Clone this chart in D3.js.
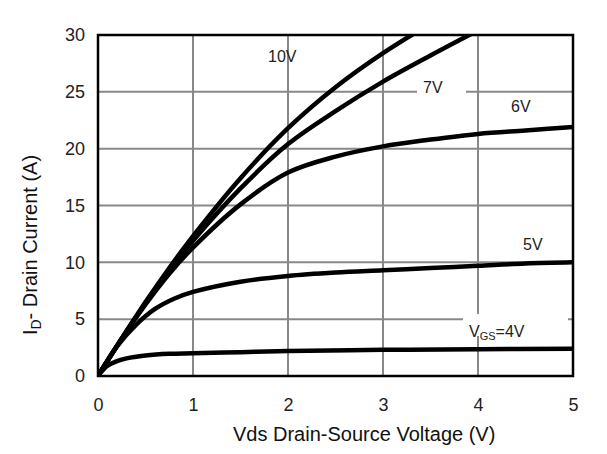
<!DOCTYPE html>
<html><head><meta charset="utf-8">
<script src="https://cdn.jsdelivr.net/npm/d3@7"></script>
<style>body{margin:0;background:#fff}svg{display:block}text{font-family:"Liberation Sans",Arial,sans-serif}</style>
</head><body><svg id="c" width="607" height="454"></svg>
<script>
const xTicks = [0,1,2,3,4,5];
const yTicks = [0,5,10,15,20,25,30];
const vds10 = [0,0.25,0.5,0.75,1,1.5,2,2.5,3,3.5];
const id10  = [0,3.3,6.5,9.5,12.3,17.4,21.8,25.4,28.4,31.0];
const vds7  = [0,0.25,0.5,0.75,1,1.5,2,2.5,3,3.5,4];
const id7   = [0,3.3,6.4,9.3,11.9,16.5,20.4,23.3,25.9,28.2,30.4];
const vds6  = [0,0.25,0.5,0.75,1,1.5,2,2.5,3,3.5,4,4.5,5];
const id6   = [0,3.3,6.3,9.0,11.3,15.1,17.9,19.3,20.2,20.8,21.3,21.6,21.9];
const vds5  = [0,0.2,0.4,0.6,0.8,1,1.5,2,2.5,3,3.5,4,4.5,5];
const id5   = [0,2.6,4.5,5.9,6.8,7.4,8.3,8.8,9.1,9.3,9.5,9.7,9.9,10.0];
const vds4  = [0,0.1,0.2,0.3,0.5,0.75,1,1.5,2,3,4,5];
const id4   = [0,0.9,1.3,1.55,1.8,1.95,2.0,2.1,2.2,2.3,2.35,2.4];
const seriesLabels = ["10V","7V","6V","5V"];

const svg = d3.select("#c");
const x = d3.scaleLinear().domain([0,5]).range([98,573]);
const y = d3.scaleLinear().domain([0,30]).range([376,35]);

// grid
const g = svg.append("g");
g.selectAll("line.v").data(xTicks.slice(1,-1)).join("line")
  .attr("x1",d=>x(d)).attr("x2",d=>x(d)).attr("y1",y(0)).attr("y2",y(30))
  .attr("stroke","#888").attr("stroke-width",2);
g.selectAll("line.h").data(yTicks.slice(1,-1)).join("line")
  .attr("y1",d=>y(d)).attr("y2",d=>y(d)).attr("x1",x(0)).attr("x2",x(5))
  .attr("stroke","#888").attr("stroke-width",2);

// white boxes for labels
const boxes = [[417,80,49,16],[507,98,59,16],[463,314,105,22]];
svg.selectAll("rect.box").data(boxes).join("rect")
  .attr("x",d=>d[0]).attr("y",d=>d[1]).attr("width",d=>d[2]).attr("height",d=>d[3]).attr("fill","#fff");

// curves
svg.append("clipPath").attr("id","pc").append("rect")
  .attr("x",x(0)).attr("y",y(30)).attr("width",x(5)-x(0)).attr("height",y(0)-y(30));
const series = [[vds10,id10],[vds7,id7],[vds6,id6],[vds5,id5],[vds4,id4]];
const line = d3.line().x(d=>x(d[0])).y(d=>y(d[1])).curve(d3.curveCatmullRom.alpha(0.5));
svg.append("g").attr("clip-path","url(#pc)").selectAll("path").data(series).join("path")
  .attr("d",s=>line(s[0].map((v,i)=>[v,s[1][i]])))
  .attr("fill","none").attr("stroke","#000").attr("stroke-width",4.5).attr("stroke-linejoin","round");

// frame
svg.append("rect").attr("x",x(0)).attr("y",y(30)).attr("width",x(5)-x(0)).attr("height",y(0)-y(30))
  .attr("fill","none").attr("stroke","#000").attr("stroke-width",2.5);

// axes
const xa = svg.append("g").attr("transform",`translate(0,${y(0)})`)
  .call(d3.axisBottom(x).tickValues(xTicks).tickFormat(d3.format("d")).tickSize(0).tickPadding(22));
const ya = svg.append("g").attr("transform",`translate(${x(0)},0)`)
  .call(d3.axisLeft(y).tickValues(yTicks).tickFormat(d3.format("d")).tickSize(0).tickPadding(13));
[xa,ya].forEach(a=>{a.select(".domain").remove();a.selectAll("text").attr("font-size",18).attr("fill","#222").attr("font-family","Liberation Sans, Arial, sans-serif");});

// curve labels
const lab = svg.append("g").attr("font-size",16).attr("fill","#222");
const labPos = [[268,62],[423,93],[511,112],[523,250]];
lab.selectAll("text").data(seriesLabels).join("text")
  .attr("x",(d,i)=>labPos[i][0]).attr("y",(d,i)=>labPos[i][1]).text(d=>d);
const vgs = lab.append("text").attr("x",469).attr("y",337);
vgs.append("tspan").text("V");
vgs.append("tspan").attr("font-size",11).attr("dy",3).text("GS");
vgs.append("tspan").attr("dy",-3).text("=4V");

// titles
svg.append("text").attr("x",233).attr("y",441).attr("font-size",20).attr("fill","#111")
  .text("Vds Drain-Source Voltage (V)");
const yt = svg.append("text").attr("transform","translate(37,245) rotate(-90)")
  .attr("text-anchor","middle").attr("font-size",20).attr("fill","#111");
yt.append("tspan").text("I");
yt.append("tspan").attr("font-size",14).attr("dy",4).text("D");
yt.append("tspan").attr("dy",-4).text("- Drain Current (A)");
</script></body></html>
